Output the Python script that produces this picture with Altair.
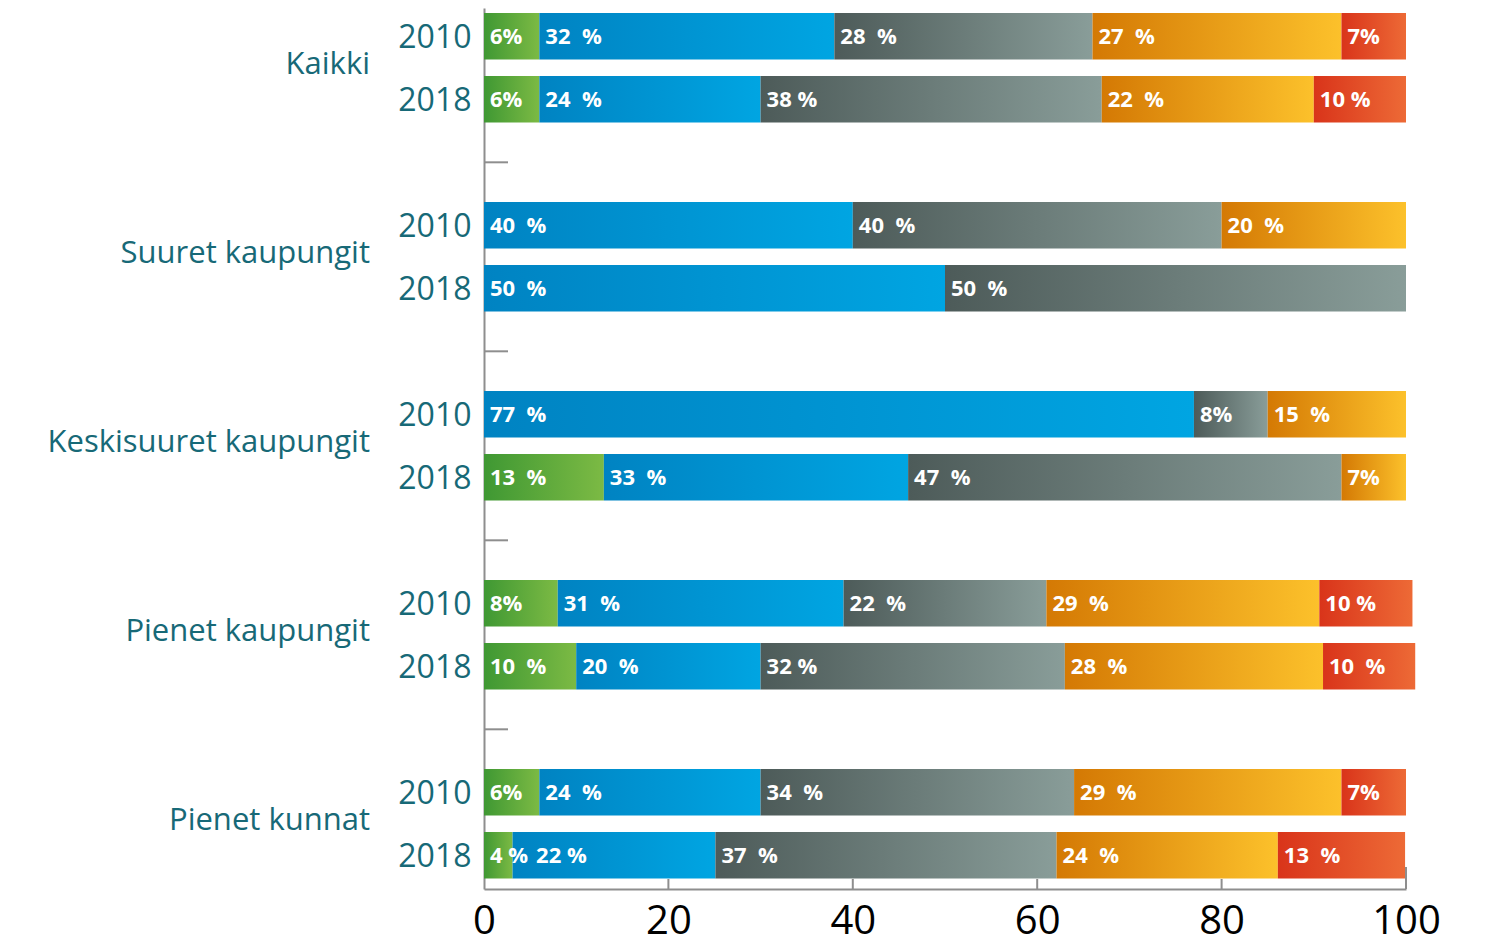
import altair as alt
import pandas as pd

groups = ["Kaikki", "Suuret kaupungit", "Keskisuuret kaupungit", "Pienet kaupungit", "Pienet kunnat"]
years = ["2010", "2018"]
categories = ["green", "blue", "gray", "orange", "red"]

# segment widths (percent) per group/year, categories in order green, blue, gray, orange, red
values = {
    ("Kaikki", "2010"): [6, 32, 28, 27, 7],
    ("Kaikki", "2018"): [6, 24, 37, 23, 10],
    ("Suuret kaupungit", "2010"): [0, 40, 40, 20, 0],
    ("Suuret kaupungit", "2018"): [0, 50, 50, 0, 0],
    ("Keskisuuret kaupungit", "2010"): [0, 77, 8, 15, 0],
    ("Keskisuuret kaupungit", "2018"): [13, 33, 47, 7, 0],
    ("Pienet kaupungit", "2010"): [8, 31, 22, 29.6, 10.1],
    ("Pienet kaupungit", "2018"): [10, 20, 33, 28, 10],
    ("Pienet kunnat", "2010"): [6, 24, 34, 29, 7],
    ("Pienet kunnat", "2018"): [3.1, 22, 37, 24, 13.8],
}

S = "\u00a0"
labels = {
    ("Kaikki", "2010"): ["6%", "32" + S + S + "%", "28" + S + S + "%", "27" + S + S + "%", "7%"],
    ("Kaikki", "2018"): ["6%", "24" + S + S + "%", "38" + S + "%", "22" + S + S + "%", "10" + S + "%"],
    ("Suuret kaupungit", "2010"): ["", "40" + S + S + "%", "40" + S + S + "%", "20" + S + S + "%", ""],
    ("Suuret kaupungit", "2018"): ["", "50" + S + S + "%", "50" + S + S + "%", "", ""],
    ("Keskisuuret kaupungit", "2010"): ["", "77" + S + S + "%", "8%", "15" + S + S + "%", ""],
    ("Keskisuuret kaupungit", "2018"): ["13" + S + S + "%", "33" + S + S + "%", "47" + S + S + "%", "7%", ""],
    ("Pienet kaupungit", "2010"): ["8%", "31" + S + S + "%", "22" + S + S + "%", "29" + S + S + "%", "10" + S + "%"],
    ("Pienet kaupungit", "2018"): ["10" + S + S + "%", "20" + S + S + "%", "32" + S + "%", "28" + S + S + "%", "10" + S + S + "%"],
    ("Pienet kunnat", "2010"): ["6%", "24" + S + S + "%", "34" + S + S + "%", "29" + S + S + "%", "7%"],
    ("Pienet kunnat", "2018"): ["4" + S + "%", "22" + S + "%", "37" + S + S + "%", "24" + S + S + "%", "13" + S + S + "%"],
}

x_ticks = [0, 20, 40, 60, 80, 100]

gradients = {
    "green": ("#3f9833", "#7cba44"),
    "blue": ("#0083c2", "#00a5e2"),
    "gray": ("#4d5b59", "#899d99"),
    "orange": ("#d47904", "#fcc12b"),
    "red": ("#d9341a", "#ed6a36"),
}

TEAL = "#176977"
AXIS_GRAY = "#8e8e8e"
FONT = "Open Sans"
W, H = 922, 881

# row domain with separator slots
domain = []
seps = []
for i, g in enumerate(groups):
    for y in years:
        domain.append(f"{g}|{y}")
    if i < len(groups) - 1:
        domain.append(f"sep{i}")
        seps.append(f"sep{i}")

rows = []
for g in groups:
    for y in years:
        vals = values[(g, y)]
        labs = labels[(g, y)]
        start = 0.0
        prev_start = None
        for c, v, l in zip(categories, vals, labs):
            if v <= 0:
                continue
            lx = start if prev_start is None else max(start, prev_start + 5.0)
            rows.append(dict(row=f"{g}|{y}", cat=c, start=start, end=start + v, lx=lx, label=l))
            prev_start = start
            start += v
df = pd.DataFrame(rows)

yscale = alt.Scale(domain=domain, paddingInner=0.26, paddingOuter=0.122, align=0.325)
yaxis = alt.Axis(
    title=None, ticks=False, grid=False,
    labelExpr="indexof(datum.value, '|') > 0 ? split(datum.value, '|')[1] : ''",
    labelFontSize=32, labelColor=TEAL, labelFont=FONT, labelPadding=13,
    labelBaseline="alphabetic", labelOffset=12,
    domainColor=AXIS_GRAY, domainWidth=2,
)
xscale = alt.Scale(domain=[0, 100], nice=False)
xaxis = alt.Axis(
    title=None, values=x_ticks, ticks=False, grid=False, labelFlush=False,
    labelFontSize=40, labelColor="black", labelFont=FONT,
    labelBaseline="alphabetic", labelPadding=44,
    domainColor=AXIS_GRAY, domainWidth=2,
)

def X(field):
    return alt.X(field, scale=xscale, axis=xaxis)

def Y():
    return alt.Y("row:N", scale=yscale, axis=yaxis, sort=domain)

base = alt.Chart(df)
layers = []
for c in categories:
    lo, hi = gradients[c]
    grad = {"gradient": "linear", "x1": 0, "x2": 1, "y1": 0, "y2": 0,
            "stops": [{"offset": 0, "color": lo}, {"offset": 1, "color": hi}]}
    layers.append(
        base.transform_filter(alt.datum.cat == c)
        .mark_bar(color=grad)
        .encode(x=X("start:Q"), x2="end:Q", y=Y())
    )

text = base.mark_text(align="left", baseline="middle", dx=6, dy=1, color="white",
                      fontWeight="bold", fontSize=22, font=FONT).encode(
    x=X("lx:Q"), y=Y(), text="label:N"
)

sep_rules = alt.Chart(pd.DataFrame({"row": seps})).mark_rule(
    color=AXIS_GRAY, strokeWidth=2
).encode(y=Y(), x=alt.value(0), x2=alt.value(24))

group_df = pd.DataFrame({"row": [f"{g}|2010" for g in groups], "name": groups})
group_text = alt.Chart(group_df).mark_text(
    align="right", baseline="alphabetic", fontSize=31, font=FONT, color=TEAL, yOffset=38
).encode(y=Y(), x=alt.value(-114), text="name:N")

tick_df = pd.DataFrame({"tick": x_ticks[1:-1]})
short_ticks = alt.Chart(tick_df).mark_rule(color=AXIS_GRAY, strokeWidth=2).encode(
    x=X("tick:Q"), y=alt.value(H - 10), y2=alt.value(H)
)
end_tick = alt.Chart(pd.DataFrame({"tick": x_ticks[-1:]})).mark_rule(
    color=AXIS_GRAY, strokeWidth=2
).encode(x=X("tick:Q"), y=alt.value(H - 22), y2=alt.value(H))

chart = alt.layer(*layers, text, sep_rules, group_text, short_ticks, end_tick).properties(
    width=W, height=H, autosize="none",
    padding={"left": 476, "top": 0, "right": 60, "bottom": 46},
).configure_view(stroke=None)

chart.save("out.html", embed_options={"renderer": "svg", "actions": False})
